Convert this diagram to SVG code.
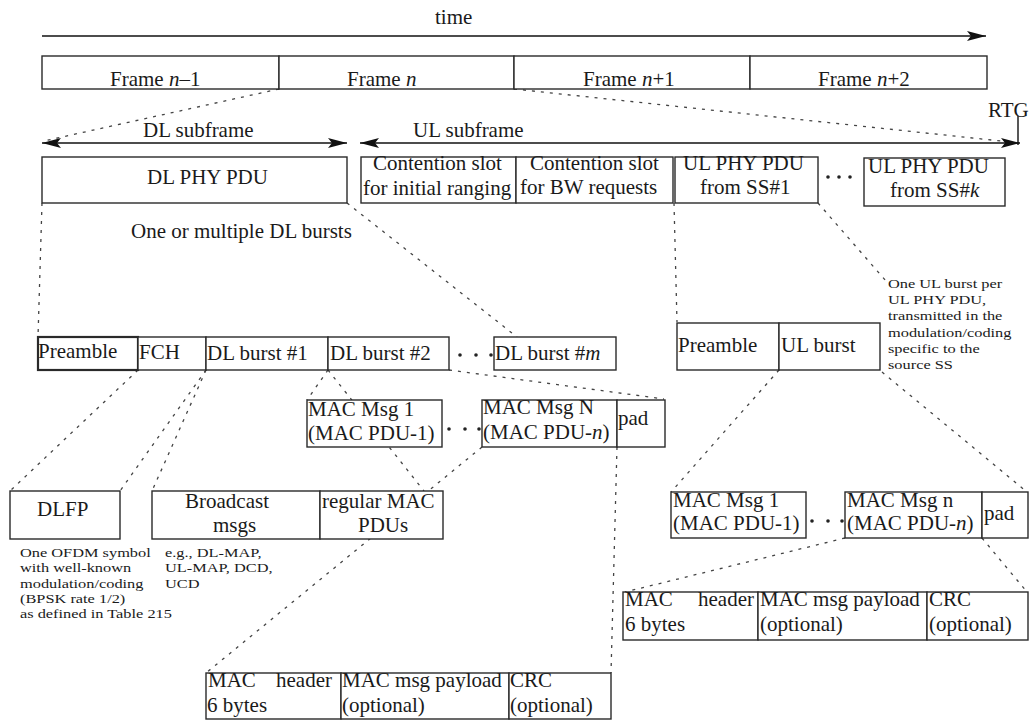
<svg xmlns="http://www.w3.org/2000/svg" width="1031" height="722" viewBox="0 0 1031 722">
<style>
.t{font-family:"Liberation Serif","Times New Roman",serif;font-size:21px;fill:#1a1a1a}
.s{font-family:"Liberation Serif","Times New Roman",serif;font-size:13.4px;fill:#1a1a1a}
.b{fill:#fff;stroke:#2a2a2a;stroke-width:1.4}
.bk{fill:none;stroke:#2a2a2a;stroke-width:2.2}
.d{stroke:#444;stroke-width:1.3;stroke-dasharray:3 6;fill:none}
.a{stroke:#111;stroke-width:1.4;fill:none}
.dot{fill:#222}
</style>
<defs>
<marker id="ah" markerUnits="userSpaceOnUse" markerWidth="20" markerHeight="10" refX="19" refY="5" orient="auto-start-reverse">
<path d="M0,0 L19,5 L0,10 L4,5 z" fill="#111"/>
</marker>
</defs>
<rect width="1031" height="722" fill="#fff"/>

<g id="connectors">
<line class="d" x1="279" y1="89" x2="44" y2="141"/>
<line class="d" x1="514" y1="89" x2="1010" y2="142"/>
<line class="d" x1="42" y1="203" x2="38" y2="337"/>
<line class="d" x1="347" y1="203" x2="517" y2="337"/>
<line class="d" x1="674" y1="203" x2="677" y2="322"/>
<line class="d" x1="818" y1="203" x2="886" y2="281"/>
<line class="d" x1="138" y1="370" x2="10" y2="491"/>
<line class="d" x1="206" y1="370" x2="120" y2="491"/>
<line class="d" x1="206" y1="370" x2="152" y2="491"/>
<line class="d" x1="328" y1="370" x2="307" y2="400"/>
<line class="d" x1="328" y1="370" x2="424" y2="491"/>
<line class="d" x1="449" y1="370" x2="664" y2="399"/>
<line class="d" x1="482" y1="447" x2="206" y2="673"/>
<line class="d" x1="617" y1="447" x2="611" y2="673"/>
<line class="d" x1="779" y1="370" x2="671" y2="492"/>
<line class="d" x1="882" y1="372" x2="1027" y2="492"/>
<line class="d" x1="845" y1="538" x2="625" y2="592"/>
<line class="d" x1="982" y1="538" x2="1027" y2="592"/>
<line class="a" x1="42" y1="36" x2="986" y2="36" marker-end="url(#ah)"/>
<line class="a" x1="42" y1="143" x2="347" y2="143" marker-start="url(#ah)" marker-end="url(#ah)"/>
<line class="a" x1="360" y1="143" x2="1020" y2="143" marker-start="url(#ah)" marker-end="url(#ah)"/>
<line class="a" x1="1018" y1="116" x2="1018" y2="145"/>
</g>

<g id="time-label"><text class="t" x="435" y="24">time</text></g>
<g id="rtg-label"><text class="t" x="988" y="117">RTG</text></g>

<g id="frame-n-1"><rect class="b" x="42" y="56" width="237" height="33"/><text class="t" x="110" y="86">Frame <tspan font-style="italic">n</tspan>–1</text></g>
<g id="frame-n"><rect class="b" x="279" y="56" width="235" height="33"/><text class="t" x="347" y="86">Frame <tspan font-style="italic">n</tspan></text></g>
<g id="frame-n1"><rect class="b" x="514" y="56" width="236" height="33"/><text class="t" x="583" y="86">Frame <tspan font-style="italic">n</tspan>+1</text></g>
<g id="frame-n2"><rect class="b" x="750" y="56" width="237" height="33"/><text class="t" x="818" y="86">Frame <tspan font-style="italic">n</tspan>+2</text></g>

<g id="dl-subframe-label"><text class="t" x="143" y="137">DL subframe</text></g>
<g id="ul-subframe-label"><text class="t" x="413" y="137">UL subframe</text></g>

<g id="dl-phy-pdu"><rect class="b" x="42" y="157" width="305" height="46"/><text class="t" x="147" y="184">DL PHY PDU</text></g>
<g id="contention-ranging"><rect class="b" x="361" y="157" width="155" height="46"/><text class="t" x="373" y="170">Contention slot</text><text class="t" x="363" y="195">for initial ranging</text></g>
<g id="contention-bw"><rect class="b" x="516" y="157" width="157" height="46"/><text class="t" x="530" y="170">Contention slot</text><text class="t" x="520" y="194">for BW requests</text></g>
<g id="ul-phy-ss1"><rect class="b" x="675" y="157" width="143" height="46"/><text class="t" x="683" y="170">UL PHY PDU</text><text class="t" x="700" y="194">from SS#1</text></g>
<g id="ul-dots"><circle class="dot" cx="828" cy="177" r="1.8"/><circle class="dot" cx="839" cy="177" r="1.8"/><circle class="dot" cx="850" cy="177" r="1.8"/></g>
<g id="ul-phy-ssk"><rect class="b" x="864" y="158" width="141" height="48"/><text class="t" x="868" y="173">UL PHY PDU</text><text class="t" x="890" y="197">from SS#<tspan font-style="italic">k</tspan></text></g>

<g id="dl-bursts-label"><text class="t" x="131" y="238">One or multiple DL bursts</text></g>

<g id="dl-preamble"><rect class="bk" x="38" y="337" width="100" height="33"/><text class="t" x="38" y="358">Preamble</text></g>
<g id="fch"><rect class="b" x="138" y="337" width="68" height="33"/><text class="t" x="139" y="359">FCH</text></g>
<g id="dl-burst-1"><rect class="b" x="206" y="337" width="122" height="33"/><text class="t" x="207" y="360">DL burst #1</text></g>
<g id="dl-burst-2"><rect class="b" x="328" y="337" width="121" height="33"/><text class="t" x="330" y="360">DL burst #2</text></g>
<g id="dl-burst-dots"><circle class="dot" cx="460" cy="355" r="1.8"/><circle class="dot" cx="476" cy="355" r="1.8"/><circle class="dot" cx="491" cy="355" r="1.8"/></g>
<g id="dl-burst-m"><rect class="b" x="494" y="337" width="122" height="33"/><text class="t" x="495" y="360">DL burst #<tspan font-style="italic">m</tspan></text></g>

<g id="ul-preamble"><rect class="b" x="677" y="323" width="102" height="47"/><text class="t" x="678" y="352">Preamble</text></g>
<g id="ul-burst"><rect class="b" x="779" y="323" width="101" height="47"/><text class="t" x="781" y="352">UL burst</text></g>
<g id="ul-note" transform="matrix(1.22,0,0,1,888,0)"><text class="s" x="0" y="288">One UL burst per</text><text class="s" x="0" y="304">UL PHY PDU,</text><text class="s" x="0" y="320">transmitted in the</text><text class="s" x="0" y="337">modulation/coding</text><text class="s" x="0" y="353">specific to the</text><text class="s" x="0" y="369">source SS</text></g>

<g id="dl-mac-msg-1"><rect class="b" x="307" y="400" width="135" height="47"/><text class="t" x="308" y="416">MAC Msg 1</text><text class="t" x="308" y="440">(MAC PDU-1)</text></g>
<g id="dl-mac-dots"><circle class="dot" cx="449" cy="429" r="1.8"/><circle class="dot" cx="465" cy="429" r="1.8"/><circle class="dot" cx="479" cy="429" r="1.8"/></g>
<g id="dl-mac-msg-n"><rect class="b" x="482" y="400" width="135" height="47"/><text class="t" x="483" y="414">MAC Msg N</text><text class="t" x="483" y="439">(MAC PDU-<tspan font-style="italic">n</tspan>)</text></g>
<g id="dl-pad"><rect class="b" x="617" y="400" width="48" height="47"/><text class="t" x="618" y="425">pad</text></g>

<g id="dlfp"><rect class="b" x="10" y="491" width="110" height="48"/><text class="t" x="37" y="516">DLFP</text></g>
<g id="dlfp-note" transform="matrix(1.22,0,0,1,20,0)"><text class="s" x="0" y="557">One OFDM symbol</text><text class="s" x="0" y="572">with well-known</text><text class="s" x="0" y="588">modulation/coding</text><text class="s" x="0" y="603">(BPSK rate 1/2)</text><text class="s" x="0" y="618">as defined in Table 215</text></g>
<g id="broadcast"><rect class="b" x="152" y="491" width="168" height="48"/><text class="t" x="185" y="508">Broadcast</text><text class="t" x="213" y="532">msgs</text></g>
<g id="regular-mac"><rect class="b" x="320" y="491" width="123" height="48"/><text class="t" x="322" y="508">regular MAC</text><text class="t" x="358" y="532">PDUs</text></g>
<g id="broadcast-note" transform="matrix(1.22,0,0,1,165,0)"><text class="s" x="0" y="557">e.g., DL-MAP,</text><text class="s" x="0" y="572">UL-MAP, DCD,</text><text class="s" x="0" y="588">UCD</text></g>

<g id="ul-mac-msg-1"><rect class="b" x="671" y="492" width="135" height="46"/><text class="t" x="673" y="507">MAC Msg 1</text><text class="t" x="673" y="530">(MAC PDU-1)</text></g>
<g id="ul-mac-dots"><circle class="dot" cx="812" cy="521" r="1.8"/><circle class="dot" cx="828" cy="521" r="1.8"/><circle class="dot" cx="842" cy="521" r="1.8"/></g>
<g id="ul-mac-msg-n"><rect class="b" x="845" y="492" width="137" height="46"/><text class="t" x="847" y="507">MAC Msg n</text><text class="t" x="847" y="530">(MAC PDU-<tspan font-style="italic">n</tspan>)</text></g>
<g id="ul-pad"><rect class="b" x="982" y="492" width="46" height="46"/><text class="t" x="984" y="520">pad</text></g>

<g id="ul-mac-header"><rect class="b" x="623" y="592" width="135" height="48"/><text class="t" x="625" y="606">MAC</text><text class="t" x="698" y="606">header</text><text class="t" x="625" y="631">6 bytes</text></g>
<g id="ul-mac-payload"><rect class="b" x="758" y="592" width="169" height="48"/><text class="t" x="760" y="606">MAC msg payload</text><text class="t" x="760" y="631">(optional)</text></g>
<g id="ul-crc"><rect class="b" x="927" y="592" width="101" height="48"/><text class="t" x="929" y="606">CRC</text><text class="t" x="929" y="631">(optional)</text></g>

<g id="dl-mac-header"><rect class="b" x="206" y="673" width="135" height="46"/><text class="t" x="208" y="687">MAC</text><text class="t" x="276" y="687">header</text><text class="t" x="207" y="712">6 bytes</text></g>
<g id="dl-mac-payload"><rect class="b" x="341" y="673" width="168" height="46"/><text class="t" x="342" y="687">MAC msg payload</text><text class="t" x="342" y="712">(optional)</text></g>
<g id="dl-crc"><rect class="b" x="509" y="673" width="102" height="46"/><text class="t" x="510" y="687">CRC</text><text class="t" x="510" y="712">(optional)</text></g>
</svg>
